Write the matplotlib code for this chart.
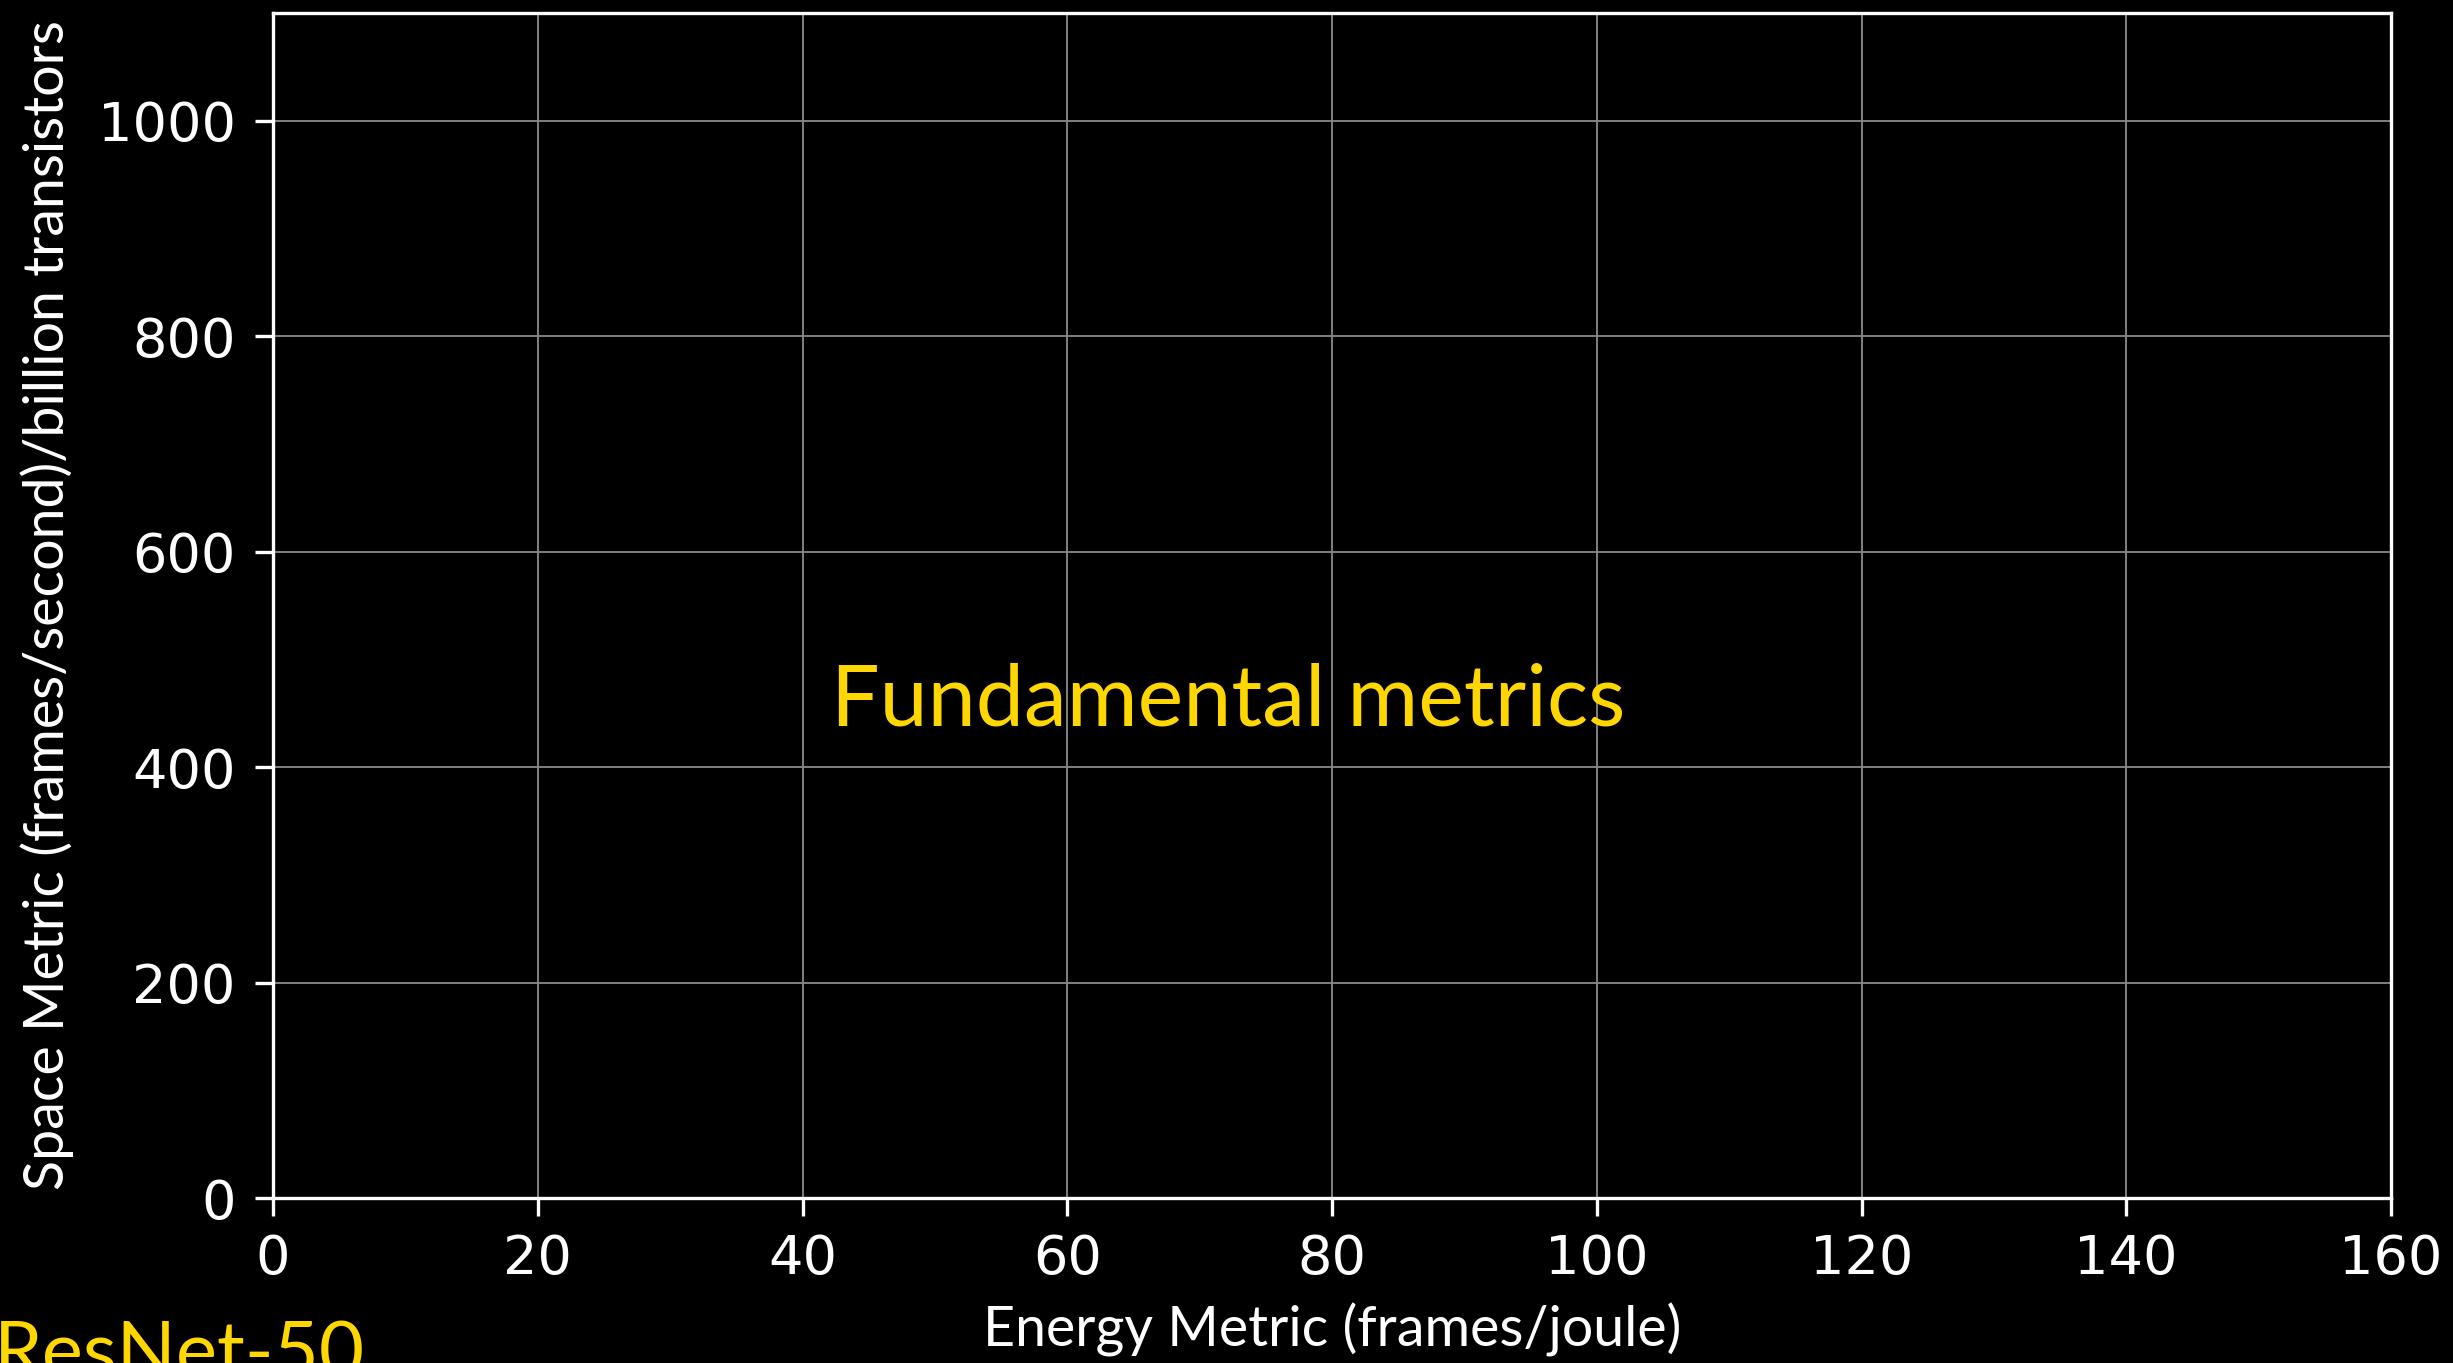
import matplotlib
matplotlib.use("Agg")
import matplotlib.pyplot as plt

# axis ranges and ticks (chart is an empty frame)
x_ticks = [0, 20, 40, 60, 80, 100, 120, 140, 160]
y_ticks = [0, 200, 400, 600, 800, 1000]
x_limits = (0, 160)
y_limits = (0, 1100)

x_label = "Energy Metric (frames/joule)"
y_label = "Space Metric (frames/second)/billion transistors"
center_note = "Fundamental metrics"
corner_note = "ResNet-50"

gold = "#FFD700"
label_font = "Lato"

fig = plt.figure(figsize=(24.53, 13.63), dpi=100, facecolor="black")
ax = fig.add_axes([273 / 2453, 1 - 1198 / 1363, (2391 - 273) / 2453, (1198 - 13) / 1363])
ax.set_facecolor("black")

ax.set_xlim(*x_limits)
ax.set_ylim(*y_limits)
ax.set_xticks(x_ticks)
ax.set_yticks(y_ticks)

ax.grid(True, color="#8a8a8a", linewidth=1.3, zorder=1)
ax.set_axisbelow(True)

for spine in ax.spines.values():
    spine.set_color("white")
    spine.set_linewidth(2.4)

ax.tick_params(axis="both", colors="white", labelcolor="white", length=13, width=2.4, labelsize=39)
ax.tick_params(axis="x", pad=12)
ax.tick_params(axis="y", pad=14)

ax.set_xlabel(x_label, color="white", fontsize=40, family=label_font, labelpad=13)
ax.set_ylabel(y_label, color="white", fontsize=40, family=label_font, labelpad=17)

ax.text(831 / 2453, 1 - 725 / 1363, center_note, transform=fig.transFigure, color=gold,
        fontsize=62, family=label_font, ha="left", va="baseline")
ax.text(-6 / 2453, 1 - 1378 / 1363, corner_note, transform=fig.transFigure, color=gold,
        fontsize=56, family=label_font, ha="left", va="baseline")

fig.savefig("out.png", dpi=100, facecolor="black")
plt.close(fig)
